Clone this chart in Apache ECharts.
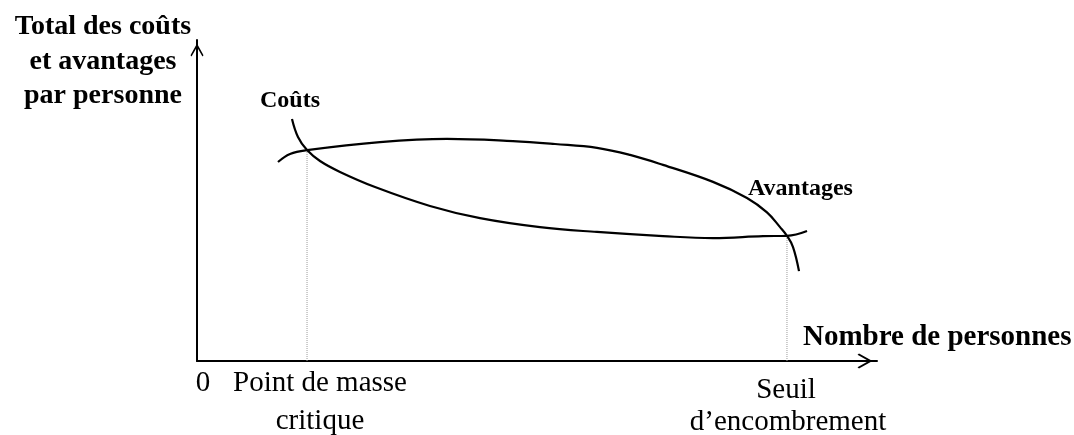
<!DOCTYPE html>
<html>
<head>
<meta charset="utf-8">
<script src="https://cdn.jsdelivr.net/npm/echarts@6/dist/echarts.min.js"></script>
<style>
html,body{margin:0;padding:0;background:#fff;}
#chart{width:1074px;height:435px;}
</style>
</head>
<body>
<div id="chart"></div>
<script>
// Data (x: nombre de personnes, y: total par personne), arbitrary units 0-100
var coutsX = [13.97, 14.85, 16.18, 18.09, 21.03, 26.18, 34.26, 41.62, 50.44, 58.82, 68.53, 75.88, 83.24, 86.76, 89.71];
var coutsY = [75.4, 69.8, 65.7, 62.3, 58.9, 54.2, 48.3, 44.5, 41.7, 40.2, 38.9, 38.3, 38.9, 39.0, 40.5];
var avantagesX = [11.91, 13.68, 16.18, 26.91, 36.76, 46.47, 52.65, 58.82, 63.68, 68.53, 75.88, 80.88, 83.82, 85.74, 86.76, 87.65, 88.53];
var avantagesY = [62.0, 64.5, 65.7, 68.2, 69.2, 68.5, 67.6, 66.4, 64.2, 61.1, 55.8, 50.8, 46.3, 41.7, 39.0, 35.5, 28.0];
var dropX = [16.18, 86.76];
var dropY = [65.7, 39.0];
var yTitle = ['Total des coûts', 'et avantages', 'par personne'];
var xTitle = 'Nombre de personnes';
var curveNames = ['Coûts', 'Avantages'];
var tickTexts = ['0', 'Point de masse\ncritique', 'Seuil\nd\u2019encombrement'];

function zip(a, b) { return a.map(function (v, i) { return [v, b[i]]; }); }

var serif = 'Liberation Serif';
var chevron = 'path://M5,0 L10,9 L9.2,10 L5,2.6 L0.8,10 L0,9 Z';

var series = [
  { type: 'line', data: zip(coutsX, coutsY), smooth: 0.4, showSymbol: false, lineStyle: { color: '#000', width: 2.2 }, z: 3 },
  { type: 'line', data: zip(avantagesX, avantagesY), smooth: 0.4, showSymbol: false, lineStyle: { color: '#000', width: 2.2 }, z: 3 }
];
dropX.forEach(function (x, i) {
  series.push({ type: 'line', data: [[x, 0], [x, dropY[i]]], showSymbol: false,
    lineStyle: { color: '#9a9a9a', width: 1, type: [1, 1] }, z: 1 });
});

function T(x, y, text, size, bold, align) {
  return { type: 'text', x: x, y: y, style: { text: text, fontFamily: serif, fontSize: size,
    fontWeight: bold ? 'bold' : 'normal', fill: '#000', align: align, verticalAlign: 'middle' } };
}

var option = {
  animation: false,
  backgroundColor: '#fff',
  grid: { left: 197, right: 197, top: 40, bottom: 74 },
  xAxis: { type: 'value', min: 0, max: 100,
    axisLine: { lineStyle: { color: '#000', width: 2 }, symbol: ['none', chevron], symbolSize: [15, 24], symbolOffset: [0, -12] },
    axisTick: { show: false }, axisLabel: { show: false }, splitLine: { show: false } },
  yAxis: { type: 'value', min: 0, max: 100,
    axisLine: { show: true, lineStyle: { color: '#000', width: 2 }, symbol: ['none', chevron], symbolSize: [13, 20], symbolOffset: [0, -10] },
    axisTick: { show: false }, axisLabel: { show: false }, splitLine: { show: false } },
  series: series,
  graphic: [
    T(103, 27, yTitle[0], 28, true, 'center'),
    T(103, 62, yTitle[1], 28, true, 'center'),
    T(103, 96, yTitle[2], 28, true, 'center'),
    T(803, 338, xTitle, 29, true, 'left'),
    T(290, 101, curveNames[0], 24, true, 'center'),
    T(748, 189, curveNames[1], 24, true, 'left'),
    T(203, 383, tickTexts[0], 29, false, 'center'),
    T(320, 383, tickTexts[1].split('\n')[0], 29, false, 'center'),
    T(320, 421, tickTexts[1].split('\n')[1], 29, false, 'center'),
    T(786, 390, tickTexts[2].split('\n')[0], 29, false, 'center'),
    T(788, 422, tickTexts[2].split('\n')[1], 29, false, 'center')
  ]
};
var chart = echarts.init(document.getElementById('chart'), null, { renderer: 'canvas' });
chart.setOption(option);
</script>
</body>
</html>
